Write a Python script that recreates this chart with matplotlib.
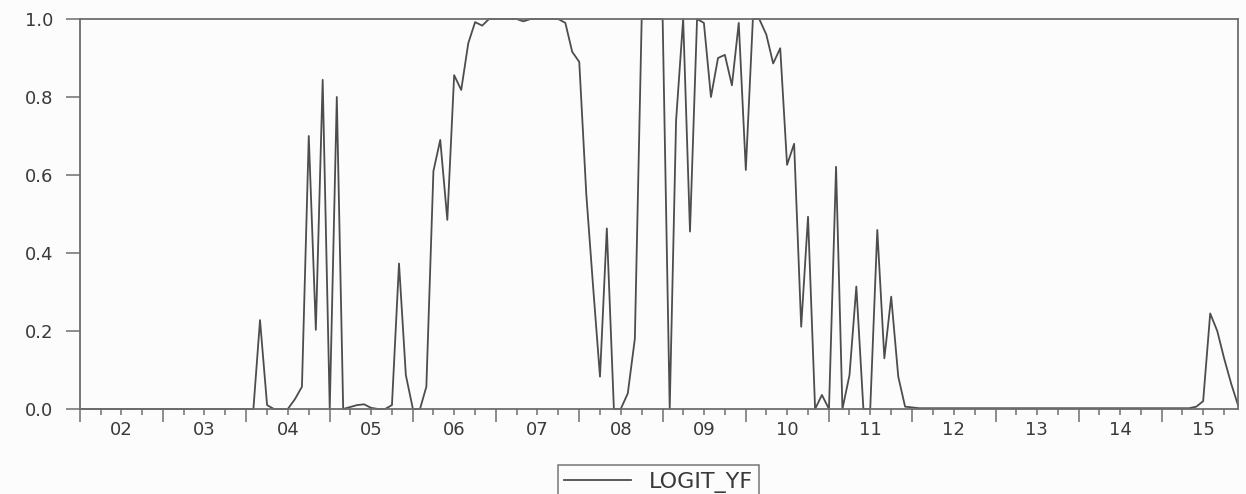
import pandas as pd
import matplotlib
matplotlib.use('Agg')
import matplotlib.pyplot as plt
import matplotlib.dates as mdates
from matplotlib.ticker import FuncFormatter

# monthly fitted logit probabilities, one row per year (Jan..Dec)
y2002 = [0.0, 0.0, 0.0, 0.0, 0.0, 0.0, 0.0, 0.0, 0.0, 0.0, 0.0, 0.0]
y2003 = [0.0, 0.0, 0.0, 0.0, 0.0, 0.0, 0.0, 0.0, 0.0, 0.0, 0.0, 0.0]
y2004 = [0.0, 0.0, 0.228, 0.01, 0.0, 0.0, 0.0, 0.025, 0.057, 0.70, 0.203, 0.844]
y2005 = [0.0, 0.80, 0.0, 0.005, 0.01, 0.012, 0.003, 0.0, 0.0, 0.01, 0.373, 0.087]
y2006 = [0.0, 0.0, 0.057, 0.61, 0.69, 0.485, 0.856, 0.818, 0.938, 0.992, 0.983, 1.0]
y2007 = [1.0, 1.0, 1.0, 1.0, 0.994, 1.0, 1.0, 1.0, 1.0, 1.0, 0.99, 0.916]
y2008 = [0.89, 0.55, 0.32, 0.083, 0.463, 0.0, 0.0, 0.04, 0.18, 1.0, 1.0, 1.0]
y2009 = [1.0, 0.0, 0.74, 1.0, 0.455, 1.0, 0.99, 0.80, 0.90, 0.908, 0.83, 0.99]
y2010 = [0.613, 1.0, 1.0, 0.96, 0.886, 0.925, 0.626, 0.68, 0.211, 0.493, 0.0, 0.036]
y2011 = [0.0, 0.621, 0.0, 0.087, 0.314, 0.0, 0.0, 0.459, 0.13, 0.288, 0.083, 0.006]
y2012 = [0.004, 0.002, 0.002, 0.002, 0.002, 0.002, 0.002, 0.002, 0.002, 0.002, 0.002, 0.002]
y2013 = [0.002, 0.002, 0.002, 0.002, 0.002, 0.002, 0.002, 0.002, 0.002, 0.002, 0.002, 0.002]
y2014 = [0.002, 0.002, 0.002, 0.002, 0.002, 0.002, 0.002, 0.002, 0.002, 0.002, 0.002, 0.002]
y2015 = [0.002, 0.002, 0.002, 0.002, 0.002, 0.006, 0.02, 0.245, 0.20, 0.13, 0.065, 0.01]

logit_yf = (y2002 + y2003 + y2004 + y2005 + y2006 + y2007 + y2008 +
            y2009 + y2010 + y2011 + y2012 + y2013 + y2014 + y2015)
dates = pd.date_range('2002-01-01', periods=len(logit_yf), freq='MS')
yticks = [0.0, 0.2, 0.4, 0.6, 0.8, 1.0]

grey = '#6e6e6e'
plt.rcParams['font.family'] = ['DejaVu Sans']

fig = plt.figure(figsize=(12.46, 4.94), dpi=100)
fig.patch.set_facecolor('#fcfcfc')
ax = fig.add_axes([80 / 1246, 1 - 409 / 494, (1238 - 80) / 1246, (409 - 19) / 494])
ax.set_facecolor('#fcfcfc')

ax.plot(dates, logit_yf, color='#4d4d4d', lw=1.3, label='LOGIT_YF', clip_on=False)

ax.set_xlim(dates[0], dates[-1])
ax.set_ylim(0, 1)
ax.set_yticks(yticks)
ax.yaxis.set_major_formatter(FuncFormatter(lambda v, p: f'{v:.1f}'))

# year ticks at January, quarter ticks in between, year label on the July tick
ax.xaxis.set_major_locator(mdates.YearLocator())
ax.xaxis.set_major_formatter(FuncFormatter(lambda v, p: ''))
ax.xaxis.set_minor_locator(mdates.MonthLocator(bymonth=[4, 7, 10]))
ax.xaxis.set_minor_formatter(FuncFormatter(
    lambda v, p: mdates.num2date(v).strftime('%y') if mdates.num2date(v).month == 7 else ''))

for s in ax.spines.values():
    s.set_color(grey)
    s.set_linewidth(1.3)

ax.tick_params(axis='x', which='major', length=9, width=1.1, color=grey, direction='out')
ax.tick_params(axis='x', which='minor', length=4.5, width=1.1, color=grey, direction='out',
               pad=4, labelsize=13, labelcolor='#3a3a3a')
ax.tick_params(axis='y', length=10, width=1.1, color=grey, direction='out',
               pad=9, labelsize=13, labelcolor='#3a3a3a')

leg = ax.legend(loc='upper center', bbox_to_anchor=(0.5285, 1 - 465 / 494),
                bbox_transform=fig.transFigure, frameon=True, fancybox=False,
                fontsize=16, handlelength=3.0, handletextpad=0.8, borderpad=0.3,
                borderaxespad=0)
leg.get_frame().set_edgecolor('#555555')
leg.get_frame().set_linewidth(1.1)
leg.get_frame().set_facecolor('#fcfcfc')
for t in leg.get_texts():
    t.set_color('#3a3a3a')

plt.savefig('out.png', dpi=100, facecolor=fig.get_facecolor())
